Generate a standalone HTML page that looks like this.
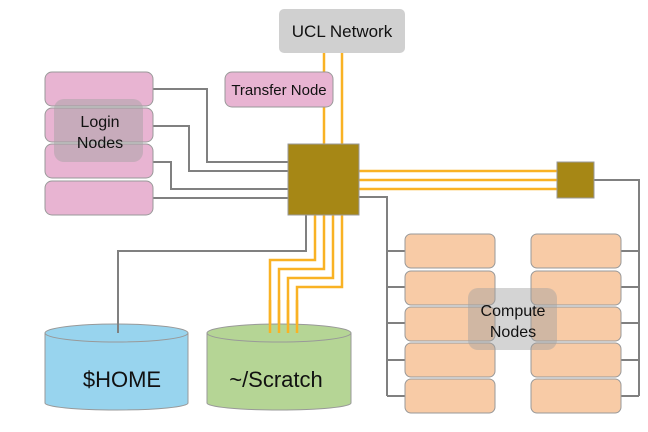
<!DOCTYPE html>
<html><head><style>html,body{margin:0;padding:0;background:#fff}svg{display:block}text{font-family:"Liberation Sans",Arial,sans-serif;fill:#111}</style></head>
<body>
<svg width="648" height="432" viewBox="0 0 648 432" xmlns="http://www.w3.org/2000/svg">
<g fill="none" stroke="#808080" stroke-width="2">
<polyline points="153,89 207,89 207,162 288,162"/>
<polyline points="153,126 189,126 189,171 288,171"/>
<polyline points="153,162 171,162 171,189 288,189"/>
<polyline points="153,198 288,198"/>
<polyline points="306,215 306,251 118,251 118,333"/>
<polyline points="359,197 387,197 387,396"/>
<path d="M387,251H405M387,287H405M387,323H405M387,360H405M387,396H405"/>
<polyline points="594,180 639,180 639,396"/>
<path d="M621,251H639M621,287H639M621,323H639M621,360H639M621,396H639"/>
</g>
<g fill="none" stroke="#f9b224" stroke-width="2.5">
<path d="M324,53V144M342,53V144"/>
<path d="M359,171H557M359,180H557M359,189H557"/>
<polyline points="315,215 315,260 270,260 270,333"/>
<polyline points="324,215 324,269 279,269 279,333"/>
<polyline points="333,215 333,278 288,278 288,333"/>
<polyline points="342,215 342,287 297,287 297,333"/>
</g>
<rect x="279" y="9" width="126" height="44" rx="5" fill="#d0d0d0"/>
<text x="342" y="37" font-size="17" text-anchor="middle">UCL Network</text>
<g fill="#e8b4d2" stroke="#999" stroke-width="1">
<rect x="225" y="72" width="108" height="35" rx="7"/>
<rect x="45" y="72" width="108" height="34" rx="7"/>
<rect x="45" y="108" width="108" height="34" rx="7"/>
<rect x="45" y="144" width="108" height="34" rx="7"/>
<rect x="45" y="181" width="108" height="34" rx="7"/>
</g>
<text x="279" y="95" font-size="15" text-anchor="middle">Transfer Node</text>
<rect x="54" y="99" width="89" height="63" rx="10" fill="#a0a0a0" fill-opacity="0.45"/>
<text x="100" y="127" font-size="16" text-anchor="middle">Login</text>
<text x="100" y="148" font-size="16" text-anchor="middle">Nodes</text>
<rect x="288" y="144" width="71" height="71" fill="#a68715" stroke="#999"/>
<rect x="557" y="162" width="37" height="36" fill="#a68715" stroke="#999"/>
<g fill="#f8cba6" stroke="#999" stroke-width="1">
<rect x="405" y="234" width="90" height="34" rx="6"/><rect x="405" y="271" width="90" height="34" rx="6"/><rect x="405" y="307" width="90" height="34" rx="6"/><rect x="405" y="343" width="90" height="34" rx="6"/><rect x="405" y="379" width="90" height="34" rx="6"/>
<rect x="531" y="234" width="90" height="34" rx="6"/><rect x="531" y="271" width="90" height="34" rx="6"/><rect x="531" y="307" width="90" height="34" rx="6"/><rect x="531" y="343" width="90" height="34" rx="6"/><rect x="531" y="379" width="90" height="34" rx="6"/>
</g>
<rect x="468" y="288" width="89" height="62" rx="10" fill="#a0a0a0" fill-opacity="0.45"/>
<text x="513" y="316" font-size="16" text-anchor="middle">Compute</text>
<text x="513" y="337" font-size="16" text-anchor="middle">Nodes</text>
<g stroke="#999" stroke-width="1">
<path d="M45,333V403A71.5,7 0 0 0 188,403V333Z" fill="#98d4ee"/>
<ellipse cx="116.5" cy="333" rx="71.5" ry="9" fill="#98d4ee"/>
<path d="M207,333V403A72,7 0 0 0 351,403V333Z" fill="#b5d595"/>
<ellipse cx="279" cy="333" rx="72" ry="9" fill="#b5d595"/>
</g>
<path d="M118,251V333" stroke="#808080" stroke-width="2"/>
<path d="M270,300V333M279,300V333M288,300V333M297,300V333" stroke="#f9b224" stroke-width="2.5"/>
<text x="122" y="387" font-size="22" text-anchor="middle">$HOME</text>
<text x="276" y="387" font-size="22" text-anchor="middle">~/Scratch</text>
</svg>
</body></html>
